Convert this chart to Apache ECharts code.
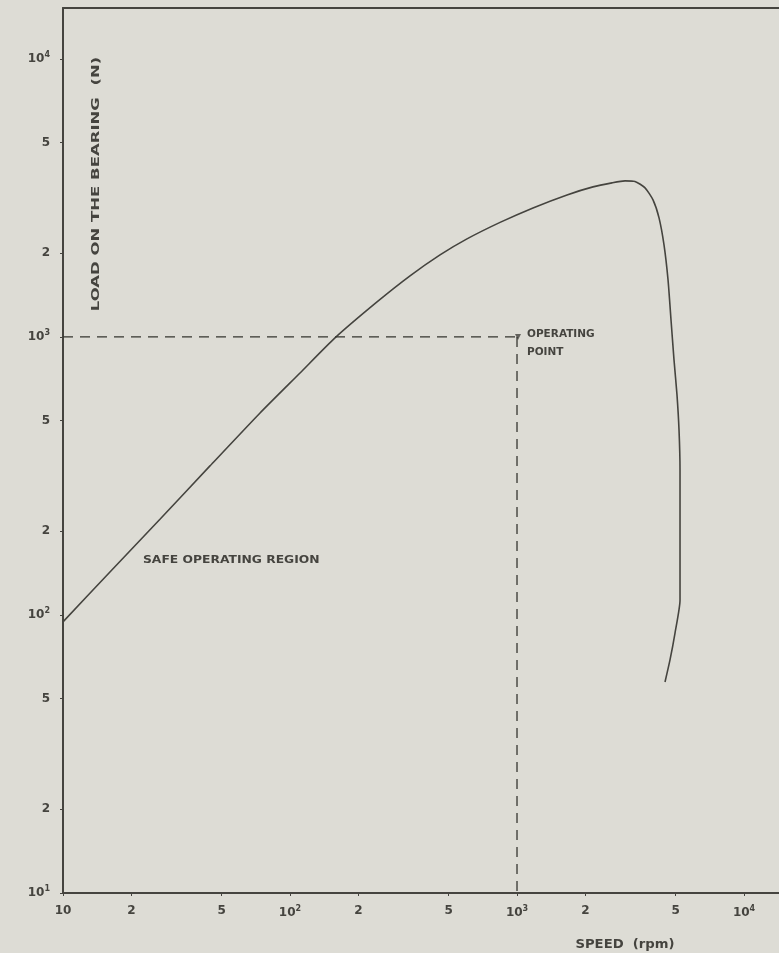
<!DOCTYPE html>
<html>
<head>
<meta charset="utf-8">
<script src="https://cdn.jsdelivr.net/npm/echarts@6/dist/echarts.min.js"></script>
<style>
html,body{margin:0;padding:0;background:#dddcd5;}
#chart{width:779px;height:953px;}
</style>
</head>
<body>
<div id="chart"></div>
<script>
// Bearing load capacity curve (log-log)
const speedCurve = [10, 16.1, 26.8, 44.4, 73.8, 110.7, 157.8, 241.7, 337.8, 458, 602, 842, 1176, 1661, 2161, 2621, 2991, 3310, 3664, 3973, 4223, 4442, 4627, 4769, 4916, 5067, 5172, 5225, 5225, 5225, 4966, 4720, 4487];
const loadCurve  = [94.4, 142.8, 221.5, 343.6, 532.8, 742, 992, 1336, 1658, 1972, 2252, 2582, 2911, 3242, 3464, 3581, 3640, 3625, 3436, 3111, 2681, 2142, 1603, 1151, 827, 619, 463, 332, 171, 113, 86.1, 68.9, 57.4];

// Operating point and guide lines
const opSpeed = [1000];
const opLoad = [1000];
const guideH_x = [10, 1000];
const guideH_y = [1000, 1000];
const guideV_x = [1000, 1000];
const guideV_y = [1000, 10];

// Tick values and labels
const xTickValues = [10, 20, 50, 100, 200, 500, 1000, 2000, 5000, 10000];
const xTickLabels = ['10', '2', '5', '10{s|2}', '2', '5', '10{s|3}', '2', '5', '10{s|4}'];
const yTickValues = [10, 20, 50, 100, 200, 500, 1000, 2000, 5000, 10000];
const yTickLabels = ['10{s|1}', '2', '5', '10{s|2}', '2', '5', '10{s|3}', '2', '5', '10{s|4}'];

const xTitle = 'SPEED  (rpm)';
const yTitle = 'LOAD ON THE BEARING  (N)';
const regionText = 'SAFE OPERATING REGION';
const opText = 'OPERATING\nPOINT';

const ink = '#45443f';
const font = 'DejaVu Sans';

function zip(a, b) { return a.map((v, i) => [v, b[i]]); }
function labelFor(values, labels) {
  return function (v) {
    let best = 0, bd = Infinity;
    values.forEach((t, i) => { const d = Math.abs(Math.log10(t) - Math.log10(v)); if (d < bd) { bd = d; best = i; } });
    return labels[best];
  };
}
const rich = {
  s: { fontSize: 8, fontWeight: 'bold', fontFamily: font, color: ink, verticalAlign: 'top', padding: [0, 0, 8, 0] }
};

const chart = echarts.init(document.getElementById('chart'), null, { renderer: 'canvas' });
chart.setOption({
  backgroundColor: '#dddcd5',
  animation: false,
  grid: { left: 63, right: 0, top: 8, bottom: 60 },
  xAxis: [{
    type: 'log', logBase: 10, min: 10, max: 14260,
    axisLine: { show: true, lineStyle: { color: ink, width: 2 } },
    axisTick: { show: true, customValues: xTickValues, length: 3, lineStyle: { color: ink } },
    axisLabel: { customValues: xTickValues, formatter: labelFor(xTickValues, xTickLabels), color: ink, fontSize: 12, fontWeight: 'bold', fontFamily: font, margin: 12, rich: rich },
    splitLine: { show: false }, minorTick: { show: false }
  }, {
    type: 'log', logBase: 10, min: 10, max: 14260, position: 'top',
    axisLine: { show: true, lineStyle: { color: ink, width: 2 } },
    axisTick: { show: false }, axisLabel: { show: false }, splitLine: { show: false }
  }],
  yAxis: [{
    type: 'log', logBase: 10, min: 10, max: 15240,
    axisLine: { show: true, lineStyle: { color: ink, width: 2 } },
    axisTick: { show: true, customValues: yTickValues, length: 3, lineStyle: { color: ink } },
    axisLabel: { customValues: yTickValues, formatter: labelFor(yTickValues, yTickLabels), color: ink, fontSize: 12, fontWeight: 'bold', fontFamily: font, margin: 13, rich: rich },
    splitLine: { show: false }
  }],
  series: [
    {
      type: 'line', name: 'limit', data: zip(speedCurve, loadCurve),
      showSymbol: false, smooth: 0.2,
      lineStyle: { color: ink, width: 1.6 }
    },
    {
      type: 'line', name: 'guideH', data: zip(guideH_x, guideH_y), showSymbol: false,
      lineStyle: { color: '#35342f', width: 1.3, type: [10, 7] }
    },
    {
      type: 'line', name: 'guideV', data: zip(guideV_x, guideV_y), showSymbol: false,
      lineStyle: { color: '#35342f', width: 1.3, type: [10, 7] }
    },
    {
      type: 'scatter', name: 'op', data: zip(opSpeed, opLoad),
      symbol: 'triangle', symbolRotate: 180, symbolSize: 6, symbolOffset: [1, 0],
      itemStyle: { color: ink }
    }
  ],
  graphic: [
    {
      type: 'text', x: 143, y: 555, scaleX: 1.12,
      style: { text: regionText, fill: ink, font: 'bold 11px "DejaVu Sans"', align: 'left', verticalAlign: 'top' }
    },
    {
      type: 'text', x: 527, y: 325, scaleX: 1.05,
      style: { text: opText, fill: ink, font: 'bold 10px "DejaVu Sans"', align: 'left', verticalAlign: 'top', lineHeight: 18 }
    },
    {
      type: 'text', x: 96, y: 184, rotation: Math.PI / 2, scaleX: 1.5,
      style: { text: yTitle, fill: ink, font: 'bold 11px "DejaVu Sans"', align: 'center', verticalAlign: 'middle' }
    },
    {
      type: 'text', x: 625, y: 945, scaleX: 1.1,
      style: { text: xTitle, fill: ink, font: 'bold 12px "DejaVu Sans"', align: 'center', verticalAlign: 'middle' }
    }
  ]
});
</script>
</body>
</html>
